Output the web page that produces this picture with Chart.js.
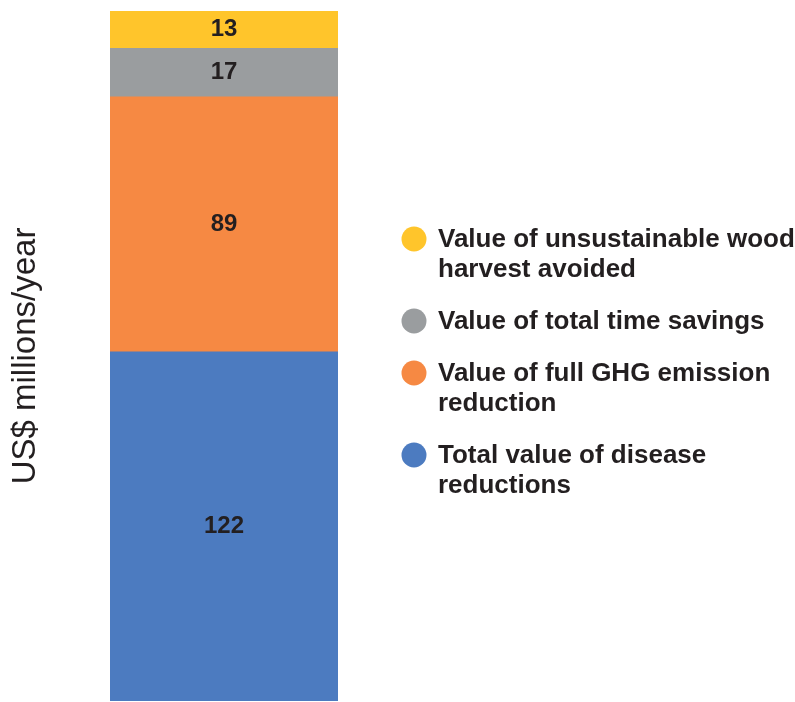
<!DOCTYPE html>
<html>
<head>
<meta charset="utf-8">
<script src="https://cdn.jsdelivr.net/npm/chart.js@4"></script>
<style>
  html, body { margin: 0; padding: 0; background: #fff; }
  #wrap { width: 795px; height: 702px; }
</style>
</head>
<body>
<div id="wrap"><canvas id="chart"></canvas></div>
<script>
// data, bottom of the stack first
const categories = [''];
const seriesNames = [
    ['Total value of disease', 'reductions'],
    ['Value of full GHG emission', 'reduction'],
    ['Value of total time savings'],
    ['Value of unsustainable wood', 'harvest avoided']
];
const seriesValues = [122, 89, 17, 13];
const seriesColors = ['#4C7BC0', '#F68943', '#9A9D9F', '#FFC52B'];
const axisTitle = 'US$ millions/year';

const textColor = '#231F20';
const fontFamily = '"Liberation Sans", Arial, sans-serif';

const datasets = seriesValues.map((v, i) => ({
    label: seriesNames[i].join(' '),
    lines: seriesNames[i],
    data: [v],
    backgroundColor: seriesColors[i],
    borderWidth: 0,
    barPercentage: 1,
    categoryPercentage: 1
}));

// value in the middle of each segment
const segmentLabels = {
    id: 'segmentLabels',
    afterDatasetsDraw(chart) {
        const ctx = chart.ctx;
        ctx.save();
        ctx.font = 'bold 24px ' + fontFamily;
        ctx.fillStyle = textColor;
        ctx.textAlign = 'center';
        ctx.textBaseline = 'middle';
        chart.data.datasets.forEach((ds, i) => {
            chart.getDatasetMeta(i).data.forEach((bar, j) => {
                const p = bar.getProps(['x', 'y', 'base'], true);
                ctx.fillText(String(ds.data[j]), p.x, (p.y + p.base) / 2);
            });
        });
        ctx.restore();
    }
};

// legend to the right of the bar, top item = top of stack
const sideLegend = {
    id: 'sideLegend',
    afterDraw(chart) {
        const ctx = chart.ctx;
        const dotX = 414, textX = 438, lineH = 30, gap = 22;
        let y = 247;
        ctx.save();
        ctx.font = 'bold 26px ' + fontFamily;
        ctx.textAlign = 'left';
        ctx.textBaseline = 'alphabetic';
        chart.data.datasets.slice().reverse().forEach(ds => {
            ctx.fillStyle = ds.backgroundColor;
            ctx.beginPath();
            ctx.arc(dotX, y - 8, 12.5, 0, Math.PI * 2);
            ctx.fill();
            ctx.fillStyle = textColor;
            ds.lines.forEach((line, k) => {
                ctx.fillText(line, textX, y + k * lineH);
            });
            y += ds.lines.length * lineH + gap;
        });
        ctx.restore();
    }
};

const total = seriesValues.reduce((a, b) => a + b, 0);

new Chart(document.getElementById('chart'), {
    type: 'bar',
    data: {
        labels: categories,
        datasets: datasets
    },
    options: {
        responsive: true,
        maintainAspectRatio: false,
        animation: false,
        layout: {
            padding: { top: 11, bottom: 1, left: 0, right: 457 }
        },
        plugins: {
            legend: { display: false },
            tooltip: { enabled: false }
        },
        scales: {
            x: {
                display: false,
                stacked: true
            },
            y: {
                stacked: true,
                min: 0,
                max: total,
                ticks: { display: false },
                grid: { display: false },
                border: { display: false },
                title: {
                    display: true,
                    text: axisTitle,
                    color: textColor,
                    font: { family: fontFamily, size: 33 },
                    padding: { top: 6, bottom: 0 }
                },
                afterFit(scale) {
                    scale.width = 110;
                }
            }
        }
    },
    plugins: [segmentLabels, sideLegend]
});
</script>
</body>
</html>
